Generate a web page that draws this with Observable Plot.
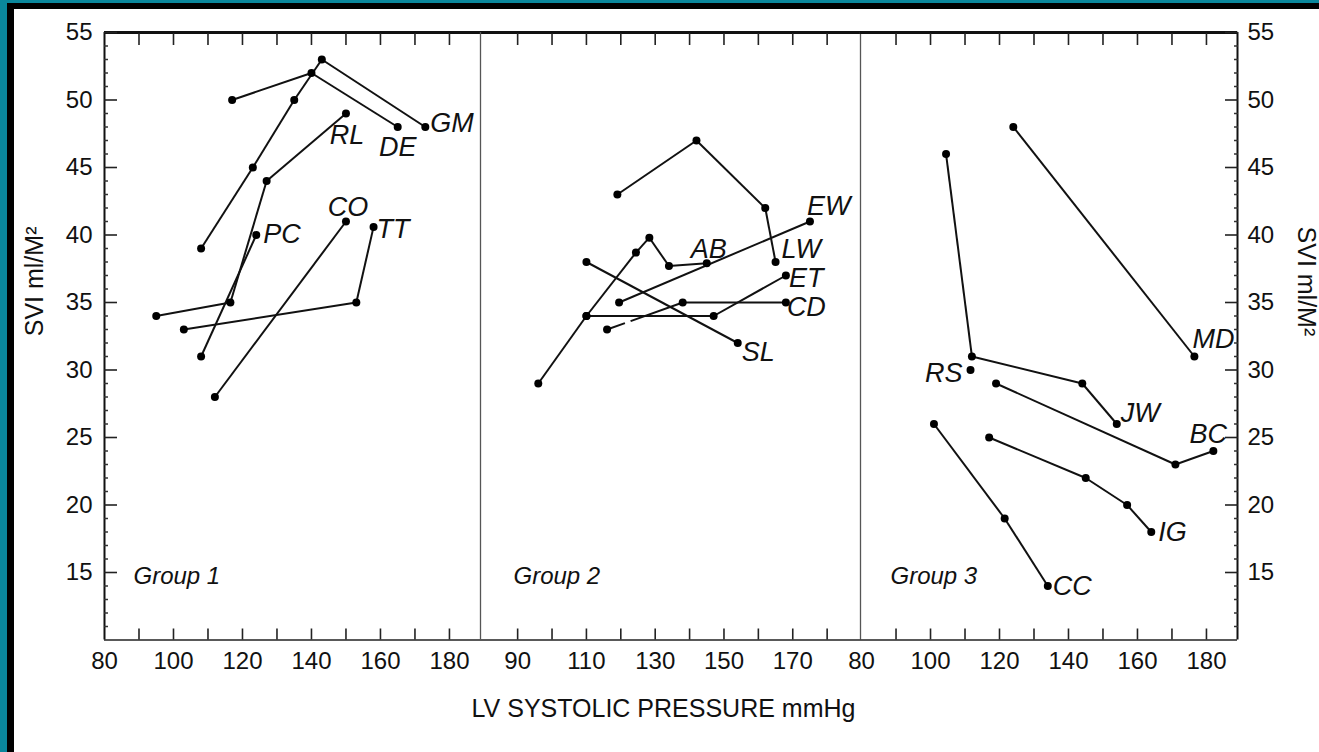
<!DOCTYPE html>
<html><head><meta charset="utf-8">
<script src="https://cdn.jsdelivr.net/npm/d3@7"></script>
<script src="https://cdn.jsdelivr.net/npm/@observablehq/plot@0.6"></script>
<style>
body{margin:0;background:#fff;}
#page{position:relative;width:1319px;height:752px;overflow:hidden;background:#fff;}
.b{position:absolute;z-index:5;}
</style></head><body>
<div id="page">
 <div class="b" style="left:0;top:0;width:1319px;height:3px;background:#0a879c"></div>
 <div class="b" style="left:0;top:0;width:7px;height:752px;background:#0a879c"></div>
 <div class="b" style="left:7px;top:3px;width:1312px;height:6px;background:#000"></div>
 <div class="b" style="left:7px;top:3px;width:7px;height:749px;background:#000"></div>
</div>
<script>
// ---------- data ----------
const yTicks = [15, 20, 25, 30, 35, 40, 45, 50, 55];
const yMinor = [11,12,13,14,16,17,18,19,21,22,23,24,26,27,28,29,31,32,33,34,36,37,38,39,41,42,43,44,46,47,48,49,51,52,53,54];
const xTicks = [90, 100, 110, 120, 130, 140, 150, 160, 170, 180];
const g1TickLabels = [80, 100, 120, 140, 160, 180];
const g2TickLabels = [90, 110, 130, 150, 170];
const g3TickLabels = [80, 100, 120, 140, 160, 180];
const yDomain = [10, 55];
const g1Domain = [80, 189];
const g2Domain = [79.2, 189.7];
const g3Domain = [79.7, 189];

const g1Names = ["DE", "GM", "RL", "PC", "CO", "TT"];
const g1X = [[117, 140, 165], [108, 123, 135, 143, 173], [95, 116.5, 127, 150], [108, 124], [112, 150], [103, 153, 158]];
const g1Y = [[50, 52, 48], [39, 45, 50, 53, 48], [34, 35, 44, 49], [31, 40], [28, 41], [33, 35, 40.6]];

const g2Names = ["LW", "EW", "AB", "ET", "CD", "SL"];
const g2X = [[119, 142, 162, 165], [119.5, 175], [96, 110, 124.4, 128.3, 134, 145], [110, 147, 168], [116, 138, 168], [110, 154]];
const g2Y = [[43, 47, 42, 38], [35, 41], [29, 34, 38.7, 39.8, 37.7, 37.9], [34, 34, 37], [33, 35, 35], [38, 32]];

const g3Names = ["JW", "RS", "MD", "BC", "IG", "CC"];
const g3X = [[104.5, 112, 144, 154], [111.6], [124, 176.5], [119, 171, 182], [117, 145, 157, 164], [101, 121.5, 134]];
const g3Y = [[46, 31, 29, 26], [30], [48, 31], [29, 23, 24], [25, 22, 20, 18], [26, 19, 14]];

const dashedSegments = [["CD", 0]];
const groupNames = ["Group 1", "Group 2", "Group 3"];
const yLabel = "SVI ml/M²";
const xTitle = "LV SYSTOLIC PRESSURE mmHg";

// ---------- label placement (pixels) ----------
const place = {
  GM: [5, -4, "start"], DE: [0, 20, "middle"], RL: [1, 22, "middle"], CO: [2, -14, "middle"],
  TT: [3, 2, "start"], PC: [7, -1, "start"],
  LW: [6, -13, "start"], EW: [-3, -15, "start"], AB: [2, -14, "middle"], ET: [3, 3, "start"],
  CD: [1, 5, "start"], SL: [4, 9, "start"],
  MD: [-2, -17, "start"], RS: [-8, 3, "end"], JW: [4, -11, "start"], BC: [-5, -17, "middle"],
  IG: [7, 0, "start"], CC: [5, 0, "start"]
};

const FONT = "'Liberation Sans', Arial, Helvetica, sans-serif";

function points(names, X, Y) {
  return names.flatMap((n, i) => X[i].map((x, j) => ({name: n, x, y: Y[i][j]})));
}
function segments(names, X, Y) {
  const s = [];
  names.forEach((n, i) => {
    for (let j = 1; j < X[i].length; j++) s.push({name: n, k: j - 1, x1: X[i][j - 1], y1: Y[i][j - 1], x2: X[i][j], y2: Y[i][j]});
  });
  return s;
}
function ends(names, X, Y) {
  return names.map((n, i) => ({name: n, x: X[i][X[i].length - 1], y: Y[i][Y[i].length - 1]}));
}

function panel(cfg) {
  const pts = points(cfg.names, cfg.X, cfg.Y);
  const segs = segments(cfg.names, cfg.X, cfg.Y);
  const isDashed = s => dashedSegments.some(([n, k]) => n === s.name && k === s.k);
  const lab = ends(cfg.names, cfg.X, cfg.Y);
  const marks = [
    Plot.ruleY([yDomain[1]], {strokeWidth: 3, stroke: "#111"}),
    Plot.ruleY([yDomain[0]], {strokeWidth: 1.6, stroke: "#222"}),
    Plot.axisX(xTicks, {anchor: "top", tickSize: 12, insetTop: 12, fill: "none", label: null, strokeWidth: 1.6, stroke: "#222"}),
    Plot.axisX(xTicks, {anchor: "bottom", tickSize: 11, insetBottom: 11, fill: "none", label: null, strokeWidth: 1.6, stroke: "#222"}),
    Plot.axisX(cfg.tickLabels, {anchor: "bottom", tickSize: 0, tickPadding: 12, fontSize: 24, label: null, fill: "#111"}),
    Plot.link(segs.filter(s => !isDashed(s)), {x1: "x1", y1: "y1", x2: "x2", y2: "y2", stroke: "#111", strokeWidth: 2}),
    Plot.link(segs.filter(isDashed), {x1: "x1", y1: "y1", x2: "x2", y2: "y2", stroke: "#111", strokeWidth: 2, strokeDasharray: "19,6,80"}),
    Plot.dot(pts, {x: "x", y: "y", r: 4, fill: "#000"}),
    ...lab.map(d => Plot.text([d], {x: "x", y: "y", text: "name", dx: place[d.name][0], dy: place[d.name][1],
      textAnchor: place[d.name][2], fontSize: 27, fontStyle: "italic", fill: "#111", ariaLabel: "serieslabel"})),
    Plot.text([cfg.group], {text: d => d, frameAnchor: "bottom-left", dx: cfg.groupDx, dy: -56, textAnchor: "start",
      fontSize: 24, fontStyle: "italic", fill: "#111", ariaLabel: "grouplabel"}),
    ...(cfg.extra || [])
  ];
  const svg = Plot.plot({
    width: cfg.width, height: 752,
    marginTop: 32, marginBottom: 112.5, marginLeft: cfg.marginLeft, marginRight: cfg.marginRight,
    x: {domain: cfg.domain, label: null},
    y: {domain: yDomain, label: null, axis: cfg.yAxis ? undefined : null},
    style: {fontFamily: FONT, background: "transparent", overflow: "visible", color: "#111"},
    marks
  });
  svg.style.position = "absolute";
  svg.style.top = "0px";
  svg.style.left = cfg.left + "px";
  svg.style.overflow = "visible";
  document.getElementById("page").appendChild(svg);
  return svg;
}

// Group 1 (left axis)
panel({
  names: g1Names, X: g1X, Y: g1Y, domain: g1Domain, tickLabels: g1TickLabels,
  width: 480, marginLeft: 104, marginRight: 0, left: 0, group: groupNames[0], groupDx: 29, yAxis: true,
  extra: [
    Plot.ruleX([g1Domain[0]], {strokeWidth: 2, stroke: "#111"}),
    Plot.axisY(yTicks, {anchor: "left", tickSize: 0, tickPadding: 12, fontSize: 24, label: null, fill: "#111"}),
    Plot.axisY(yTicks, {anchor: "left", tickSize: 13, insetLeft: 13, fill: "none", label: null, strokeWidth: 1.6, stroke: "#222"}),
    Plot.axisY(yMinor, {anchor: "left", tickSize: 4, insetLeft: 4, fill: "none", label: null, strokeWidth: 1.5, stroke: "#333"}),
    Plot.text([yLabel], {text: d => d, frameAnchor: "left", dx: -70, rotate: -90, fontSize: 25, fill: "#111"})
  ]
});

// Group 2
panel({
  names: g2Names, X: g2X, Y: g2Y, domain: g2Domain, tickLabels: g2TickLabels,
  width: 380, marginLeft: 0, marginRight: 0, left: 480, group: groupNames[1], groupDx: 33, yAxis: false,
  extra: [
    Plot.ruleX([g2Domain[0], g2Domain[1]], {strokeWidth: 1.3, stroke: "#555"}),
    Plot.text([xTitle], {text: d => d, frameAnchor: "bottom", dx: -7, dy: 77, fontSize: 25, fill: "#111"})
  ]
});

// Group 3 (right axis)
panel({
  names: g3Names, X: g3X, Y: g3Y, domain: g3Domain, tickLabels: g3TickLabels,
  width: 459, marginLeft: 0, marginRight: 82, left: 860, group: groupNames[2], groupDx: 30, yAxis: true,
  extra: [
    Plot.ruleX([g3Domain[1]], {strokeWidth: 2, stroke: "#111"}),
    Plot.axisY(yTicks, {anchor: "right", tickSize: 0, tickPadding: 10, fontSize: 24, label: null, fill: "#111"}),
    Plot.axisY(yTicks, {anchor: "right", tickSize: 13, insetRight: 13, fill: "none", label: null, strokeWidth: 1.6, stroke: "#222"}),
    Plot.axisY(yMinor, {anchor: "right", tickSize: 4, insetRight: 4, fill: "none", label: null, strokeWidth: 1.5, stroke: "#333"}),
    Plot.text([yLabel], {text: d => d, frameAnchor: "right", dx: 68, rotate: 90, fontSize: 25, fill: "#111"})
  ]
});

// condense hand-lettered labels
function condense(sel, ratio) {
  document.querySelectorAll(sel).forEach(t => {
    const w = t.getComputedTextLength();
    if (w > 0) { t.setAttribute("textLength", (w * ratio).toFixed(1)); t.setAttribute("lengthAdjust", "spacingAndGlyphs"); }
  });
}
condense('g[aria-label="serieslabel"] text', 0.78);
condense('g[aria-label="grouplabel"] text', 0.9);
</script>
</body></html>
